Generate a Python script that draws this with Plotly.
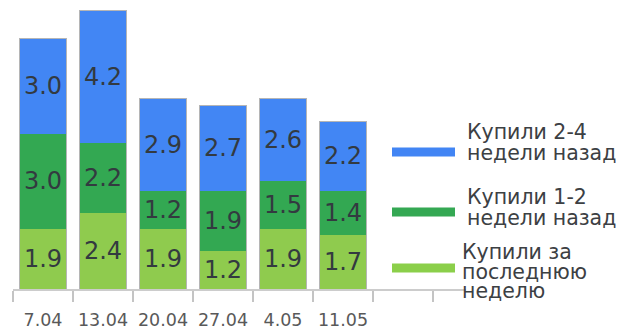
import plotly.graph_objects as go

# ---- data ----
dates = ["7.04", "13.04", "20.04", "27.04", "4.05", "11.05"]
last_week = [1.9, 2.4, 1.9, 1.2, 1.9, 1.7]        # Купили за последнюю неделю
weeks_1_2 = [3.0, 2.2, 1.2, 1.9, 1.5, 1.4]        # Купили 1-2 недели назад
weeks_2_4 = [3.0, 4.2, 2.9, 2.7, 2.6, 2.2]        # Купили 2-4 недели назад
totals = [a + b + c for a, b, c in zip(last_week, weeks_1_2, weeks_2_4)]
xpos = list(range(len(dates)))

series = [
    ("Купили за последнюю неделю", last_week, "#8fcb4e"),
    ("Купили 1-2 недели назад", weeks_1_2, "#33a852"),
    ("Купили 2-4 недели назад", weeks_2_4, "#4286f4"),
]

W, H = 628, 331
L, R, T, B = 13, 162, 0, 42
PW, PH = W - L - R, H - T - B

def px(x):
    return (x - L) / PW

def py(y):
    return 1 - (y - T) / PH

FONT = "DejaVu Sans"

fig = go.Figure()
for name, vals, col in series:
    fig.add_trace(go.Bar(
        x=xpos, y=vals, name=name,
        marker=dict(color=col, line=dict(width=0)),
        texttemplate="%{y:.1f}", textposition="inside",
        insidetextanchor="middle", textangle=0, constraintext="none",
        textfont=dict(family=FONT, size=24, color="#333a40"),
        hoverinfo="skip", showlegend=False,
    ))

# outline around each full bar
fig.add_trace(go.Bar(
    x=xpos, y=totals, xaxis="x2",
    marker=dict(color="rgba(0,0,0,0)", line=dict(color="#b5b5b5", width=1)),
    hoverinfo="skip", showlegend=False,
))

fig.update_layout(
    width=W, height=H,
    margin=dict(l=L, r=R, t=T, b=B, autoexpand=False),
    barmode="stack", bargap=0.23,
    plot_bgcolor="white", paper_bgcolor="white",
    xaxis=dict(
        type="linear", range=[-0.5, 7.05], automargin=False,
        tickmode="array", tickvals=xpos, ticktext=dates, ticks="",
        minor=dict(tick0=-0.5, dtick=1, ticks="outside", ticklen=11,
                   tickwidth=2, tickcolor="#c4c4c4", showgrid=False),
        showline=True, linecolor="#cccccc", linewidth=2,
        showgrid=False, zeroline=False, ticklabelstandoff=14,
        tickfont=dict(family=FONT, size=17.5, color="#595959"),
    ),
    xaxis2=dict(overlaying="x", matches="x", visible=False),
    yaxis=dict(range=[0, 9.12], visible=False, showgrid=False,
               zeroline=False, automargin=False),
    showlegend=False,
)

# legend (drawn manually)
legend_items = [
    ("#4285f4", 152, 465, ["Купили 2-4", "недели назад"], [132, 153]),
    ("#34a853", 212, 465, ["Купили 1-2", "недели назад"], [197, 218]),
    ("#8bcf4a", 268, 460, ["Купили за", "последнюю", "неделю"], [252, 272, 291]),
]
for col, sy, tx, lines, ys in legend_items:
    fig.add_shape(type="line", xref="paper", yref="paper",
                  x0=px(392), x1=px(455), y0=py(sy), y1=py(sy),
                  line=dict(color=col, width=9))
    for txt, ty in zip(lines, ys):
        fig.add_annotation(xref="paper", yref="paper", x=px(tx), y=py(ty),
                           xanchor="left", yanchor="middle", showarrow=False,
                           text=txt, bgcolor="rgba(255,255,255,0)",
                           font=dict(family=FONT, size=20.5, color="#3c4043"))

fig.write_html("out.html",
               config={"displayModeBar": False},
               post_script="document.body.style.margin='0';"
                           "document.body.style.overflow='hidden';")
